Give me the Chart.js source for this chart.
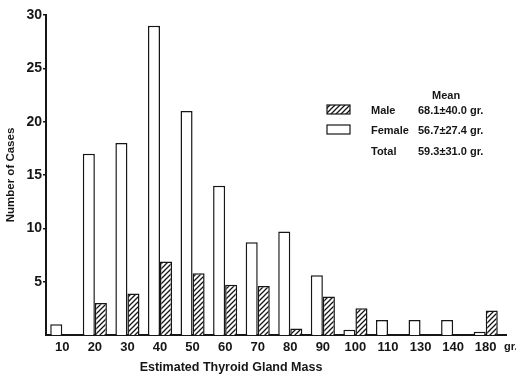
<!DOCTYPE html>
<html>
<head>
<meta charset="utf-8">
<script src="https://cdn.jsdelivr.net/npm/chart.js@4.4.1/dist/chart.umd.min.js"></script>
<style>
  body { margin: 0; background: #fff; }
  #wrap { width: 516px; height: 378px; }
</style>
</head>
<body>
<div id="wrap"><canvas id="thyroidChart" width="516" height="378"></canvas></div>
<script>
const categories = ['10', '20', '30', '40', '50', '60', '70', '80', '90', '100', '110', '130', '140', '180'];
const female = [1, 17, 18, 29, 21, 14, 8.7, 9.7, 5.6, 0.5, 1.4, 1.4, 1.4, 0.3];
const male = [null, 3, 3.9, 6.9, 5.8, 4.7, 4.6, 0.6, 3.6, 2.5, null, null, null, 2.3];
const yTicks = [5, 10, 15, 20, 25, 30];
const meanRows = [
  { label: 'Male', value: '68.1\u00b140.0 gr.' },
  { label: 'Female', value: '56.7\u00b127.4 gr.' },
  { label: 'Total', value: '59.3\u00b131.0 gr.' }
];

const ink = '#161616';
const font = '"Liberation Sans", Arial, sans-serif';

// diagonal hatch for the male bars
function makeHatch() {
  const c = document.createElement('canvas');
  c.width = 5; c.height = 5;
  const g = c.getContext('2d');
  g.fillStyle = '#fff';
  g.fillRect(0, 0, 5, 5);
  g.strokeStyle = ink;
  g.lineWidth = 1.3;
  g.beginPath();
  g.moveTo(-1, 6); g.lineTo(6, -1);
  g.moveTo(-1, 1); g.lineTo(1, -1);
  g.moveTo(4, 6); g.lineTo(6, 4);
  g.stroke();
  return g.createPattern(c, 'repeat');
}
const hatch = makeHatch();

const extras = {
  id: 'extras',
  afterDraw(chart) {
    const ctx = chart.ctx;
    const area = chart.chartArea;
    ctx.save();
    ctx.fillStyle = ink;
    ctx.textBaseline = 'middle';

    // "gr." after the last tick and the x title
    ctx.font = 'bold 11px ' + font;
    ctx.textAlign = 'left';
    ctx.fillText('gr.', 504, 347);
    ctx.font = 'bold 12.5px ' + font;
    ctx.textAlign = 'center';
    ctx.fillText('Estimated Thyroid Gland Mass', 231, 368);

    // axis line runs a bit past the last bar
    ctx.strokeStyle = ink;
    ctx.lineWidth = 2;
    ctx.beginPath();
    ctx.moveTo(area.right, area.bottom);
    ctx.lineTo(507, area.bottom);
    ctx.stroke();

    // legend with means
    ctx.font = 'bold 11px ' + font;
    ctx.textAlign = 'left';
    ctx.fillText('Mean', 432, 96);
    const rowsY = [111, 131, 152];
    meanRows.forEach((r, i) => {
      ctx.fillText(r.label, 371, rowsY[i]);
      ctx.fillText(r.value, 418, rowsY[i]);
    });
    ctx.lineWidth = 1.2;
    ctx.fillStyle = hatch;
    ctx.fillRect(327, 105, 23, 9);
    ctx.strokeRect(327, 105, 23, 9);
    ctx.fillStyle = '#fff';
    ctx.fillRect(327, 125, 23, 9);
    ctx.strokeRect(327, 125, 23, 9);
    ctx.restore();
  }
};

new Chart(document.getElementById('thyroidChart'), {
  type: 'bar',
  data: {
    labels: categories,
    datasets: [
      {
        label: 'Female',
        data: female,
        backgroundColor: '#fff',
        borderColor: ink,
        borderWidth: 1.5
      },
      {
        label: 'Male',
        data: male,
        backgroundColor: hatch,
        borderColor: ink,
        borderWidth: 1.5
      }
    ]
  },
  options: {
    responsive: false,
    animation: false,
    layout: { padding: { left: 0, right: 14, top: 15, bottom: 0 } },
    datasets: {
      bar: { categoryPercentage: 0.74, barPercentage: 1.0 }
    },
    plugins: {
      legend: { display: false },
      tooltip: { enabled: false }
    },
    scales: {
      x: {
        grid: { display: false, drawTicks: false },
        border: { display: true, color: ink, width: 2 },
        ticks: {
          color: ink,
          font: { family: font, size: 13, weight: 'bold' },
          padding: 5,
          maxRotation: 0
        },
        afterFit(scale) { scale.height = 43; }
      },
      y: {
        min: 0,
        max: 30,
        afterBuildTicks(scale) {
          scale.ticks = yTicks.map(v => ({ value: v }));
        },
        grid: { drawOnChartArea: false, drawTicks: true, tickLength: 3, color: ink, lineWidth: 1.5 },
        border: { display: true, color: ink, width: 2 },
        ticks: {
          color: ink,
          font: { family: font, size: 14, weight: 'bold' },
          padding: 1
        },
        title: {
          display: true,
          text: 'Number of Cases',
          color: ink,
          font: { family: font, size: 11.5, weight: 'bold' },
          padding: { top: 4, bottom: 2 }
        },
        afterFit(scale) { scale.width = 46; }
      }
    }
  },
  plugins: [extras]
});
</script>
</body>
</html>
